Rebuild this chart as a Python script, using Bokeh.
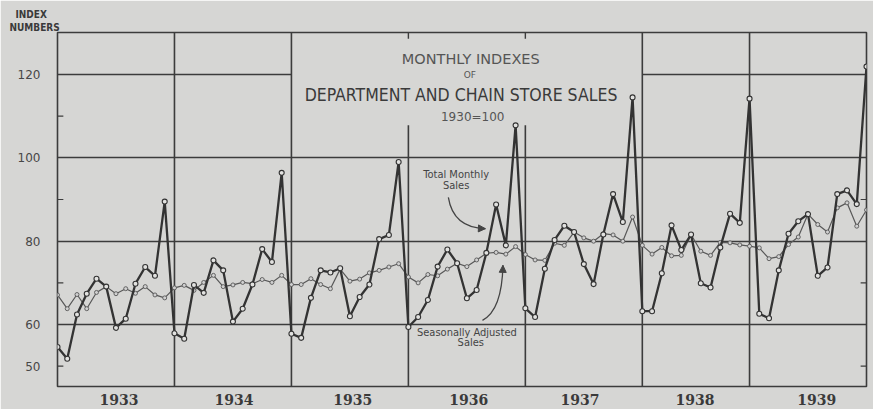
from bokeh.plotting import figure
from bokeh.models import Range1d, FixedTicker, Label, Arrow, NormalHead, Title
from bokeh.embed import file_html
from bokeh.resources import INLINE

# ---- data (index numbers, 1930 = 100), monthly Jan 1933 .. Dec 1939 ----
years = ["1933", "1934", "1935", "1936", "1937", "1938", "1939"]
total_sales = [
    54.6, 51.8, 62.4, 67.4, 71.0, 69.1, 59.2, 61.4, 69.8, 73.8, 71.7, 89.5,
    57.9, 56.6, 69.5, 67.6, 75.4, 73.0, 60.7, 63.8, 69.6, 78.1, 75.0, 96.4,
    57.8, 56.8, 66.4, 73.0, 72.5, 73.5, 62.0, 66.6, 69.6, 80.5, 81.5, 99.0,
    59.4, 61.8, 65.9, 73.9, 78.0, 74.7, 66.3, 68.3, 77.2, 88.8, 79.0, 107.8,
    63.9, 61.8, 73.4, 80.3, 83.7, 82.2, 74.5, 69.7, 81.6, 91.3, 84.6, 114.5,
    63.2, 63.2, 72.3, 83.8, 77.9, 81.6, 69.9, 68.9, 78.5, 86.6, 84.4, 114.2,
    62.6, 61.5, 73.0, 81.8, 84.8, 86.5, 71.7, 73.7, 91.3, 92.2, 88.9, 121.9,
]
adjusted_sales = [
    67.1, 63.8, 67.2, 63.8, 67.7, 69.1, 67.4, 68.6, 67.5, 69.1, 67.1, 66.4,
    68.8, 69.4, 68.2, 70.1, 71.8, 69.1, 69.5, 70.1, 69.8, 70.8, 70.1, 71.8,
    69.6, 69.6, 71.0, 69.6, 68.6, 73.3, 70.4, 70.9, 72.4, 73.0, 73.8, 74.6,
    71.4, 70.0, 72.0, 71.7, 73.3, 74.7, 73.9, 75.5, 77.1, 77.3, 76.9, 78.7,
    76.8, 75.5, 75.4, 79.5, 79.0, 82.2, 80.8, 80.0, 81.8, 81.5, 80.0, 85.8,
    79.0, 76.9, 78.5, 76.5, 76.6, 81.6, 77.6, 76.6, 79.7, 79.6, 79.1, 78.8,
    78.4, 75.8, 76.3, 79.2, 81.0, 86.5, 84.0, 82.2, 88.0, 89.2, 83.6, 87.5,
]
y_labels = [50, 60, 80, 100, 120]
grid_values = [60, 80, 100]
left_inner_ticks = [50, 70, 90, 110]
right_inner_ticks = [50, 70, 90]
year_dividers_full = [12, 24, 60, 71]
year_dividers_short = [36, 48]
year_label_pos = [6.3, 18.1, 30.3, 42.2, 53.6, 65.4, 77.9]

months = list(range(len(total_sales)))

BG = "#d6d6d4"
INK = "#333333"
GRID = "#3c3c3c"
TXT = "#474747"
COND = "'DejaVu Sans Condensed', 'Liberation Sans Narrow', Roboto, sans-serif"

y0, y1 = 45.13, 130.08
x0, x1 = 0, len(total_sales) - 1

p = figure(width=873, height=409, output_backend="svg", toolbar_location=None,
           x_range=Range1d(x0, x1), y_range=Range1d(y0, y1),
           min_border_left=57, min_border_right=7, min_border_top=32,
           min_border_bottom=23)
p.background_fill_color = BG
p.border_fill_color = BG
p.outline_line_color = GRID
p.outline_line_width = 1.6

# axis caption "INDEX / NUMBERS" as stacked titles in the top-left corner
p.title.text = "INDEX"
p.title.align = "left"
p.title.offset = -42
p.title.standoff = 0
p.title.text_font = COND
p.title.text_font_style = "bold"
p.title.text_font_size = "10px"
p.title.text_color = "#3a3a3a"
p.add_layout(Title(text="NUMBERS", align="left", offset=-48, standoff=0,
                   text_font=COND, text_font_style="bold", text_font_size="10px",
                   text_color="#3a3a3a"), "above")

# x axis: year names
xa = p.xaxis[0]
xa.ticker = FixedTicker(ticks=year_label_pos)
xa.major_label_overrides = {pos: yr for pos, yr in zip(year_label_pos, years)}
xa.axis_line_color = None
xa.major_tick_line_color = None
xa.minor_tick_line_color = None
xa.major_label_standoff = 1
xa.major_label_text_font = "DejaVu Serif"
xa.major_label_text_font_style = "bold"
xa.major_label_text_font_size = "14px"
xa.major_label_text_color = "#3a3a3a"

p.xgrid.grid_line_color = None
p.ygrid.ticker = FixedTicker(ticks=grid_values)
p.ygrid.grid_line_color = GRID
p.ygrid.grid_line_width = 1.6

ax = p.yaxis[0]
ax.ticker = FixedTicker(ticks=y_labels)
ax.axis_line_color = None
ax.major_tick_line_color = None
ax.minor_tick_line_color = None
ax.major_label_standoff = 11
ax.major_label_text_font = "DejaVu Sans"
ax.major_label_text_font_size = "12px"
ax.major_label_text_color = TXT

# partial 120 line (interrupted by the title)
p.segment(x0=[x0, 60], y0=[120, 120], x1=[24, x1], y1=[120, 120],
          line_color=GRID, line_width=1.6)
# year dividers
p.segment(x0=year_dividers_full, y0=[y0] * 4, x1=year_dividers_full, y1=[y1] * 4,
          line_color=GRID, line_width=1.6)
p.segment(x0=year_dividers_short, y0=[y0] * 2, x1=year_dividers_short, y1=[107.8] * 2,
          line_color=GRID, line_width=1.6)
p.segment(x0=year_dividers_short, y0=[128.6] * 2, x1=year_dividers_short, y1=[y1] * 2,
          line_color=GRID, line_width=1.4)
# small inner ticks
p.segment(x0=[x0] * 4, y0=left_inner_ticks, x1=[x0 + 0.6] * 4, y1=left_inner_ticks,
          line_color=GRID, line_width=1.2)
p.segment(x0=[x1 - 0.6] * 3, y0=right_inner_ticks, x1=[x1] * 3, y1=right_inner_ticks,
          line_color=GRID, line_width=1.2)

# series
p.line(months, adjusted_sales, line_color="#585858", line_width=1.2)
p.scatter(months, adjusted_sales, size=4, fill_color="#d0d0d0",
          line_color="#585858", line_width=0.9)
p.line(months, total_sales, line_color=INK, line_width=2.3)
p.scatter(months, total_sales, size=5, fill_color="#e2e2e0",
          line_color=INK, line_width=1.1)

# titles
p.add_layout(Label(x=42.4, y=123.8, text="MONTHLY INDEXES", text_align="center",
                   text_baseline="middle", text_font="DejaVu Sans",
                   text_font_size="14.5px", text_color="#555555"))
p.add_layout(Label(x=42.3, y=119.8, text="OF", text_align="center",
                   text_baseline="middle", text_font="DejaVu Sans",
                   text_font_size="9px", text_color="#555555"))
p.add_layout(Label(x=41.4, y=115.0, text="DEPARTMENT AND CHAIN STORE SALES",
                   text_align="center", text_baseline="middle", text_font=COND,
                   text_font_size="17.5px", text_color="#3a3a3a"))
p.add_layout(Label(x=42.6, y=109.7, text="1930=100", text_align="center",
                   text_baseline="middle", text_font="DejaVu Sans",
                   text_font_size="12px", text_color="#555555"))

# series annotations
for txt, xx, yy in [("Total Monthly", 40.9, 96.0), ("Sales", 40.9, 93.4),
                    ("Seasonally Adjusted", 42.0, 58.1), ("Sales", 42.4, 55.7)]:
    p.add_layout(Label(x=xx, y=yy, text=txt, text_align="center",
                       text_baseline="middle", text_font=COND,
                       text_font_size="11px", text_color="#444444"))

p.quadratic(x0=[40.1], y0=[90.5], x1=[43.9], y1=[83.0], cx=[40.6], cy=[83.2],
            line_color="#444444", line_width=1.3)
p.add_layout(Arrow(x_start=43.4, y_start=83.05, x_end=43.9, y_end=83.0,
                   line_color="#444444", line_width=1.3,
                   end=NormalHead(size=7, fill_color="#444444", line_color="#444444")))
p.quadratic(x0=[43.6], y0=[61.0], x1=[45.7], y1=[74.2], cx=[45.6], cy=[63.4],
            line_color="#444444", line_width=1.3)
p.add_layout(Arrow(x_start=45.69, y_start=73.4, x_end=45.7, y_end=74.2,
                   line_color="#444444", line_width=1.3,
                   end=NormalHead(size=7, fill_color="#444444", line_color="#444444")))

open("out.html", "w").write(file_html(p, INLINE))
